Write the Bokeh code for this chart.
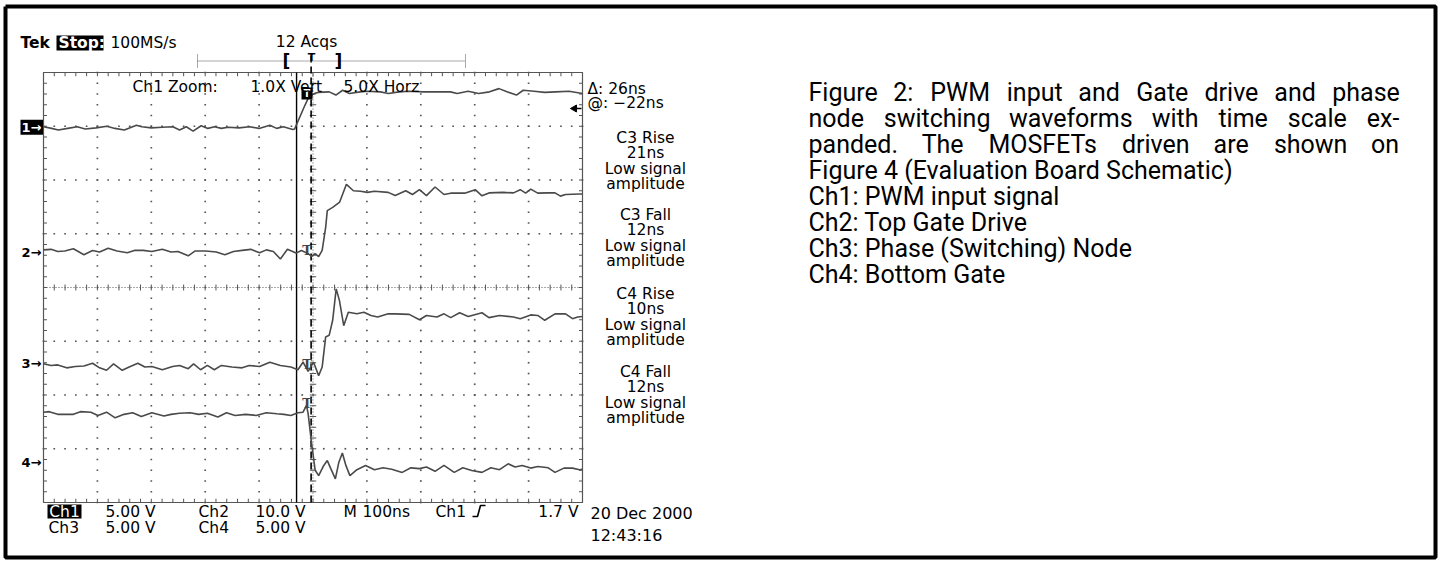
import numpy as np
from bokeh.plotting import figure
from bokeh.models import Range1d, Label
from bokeh.embed import file_html
from bokeh.resources import INLINE

# ---------------- data (time in ns at 20 ns/div, amplitude in screen divisions) ----------------
ch1_t = [-100, -97, -94.5, -91, -87.5, -84.5, -80.5, -76.5, -73.5, -70, -65.5, -63.5, -60, -56, -52,
         -49.5, -47, -44.5, -41.5, -39, -36.5, -34, -31.5, -27.5, -23.5, -20, -16, -13.5, -11, -7.5,
         -6.8, -3, -1.5, 1, 2, 6, 8.5, 11, 13.5, 17.5, 20, 25, 28, 32, 35.5, 41, 47, 51, 53.5, 57.5,
         61.5, 65.5, 69, 72, 75.5, 78, 82, 86, 90, 95, 100]
ch1_v = [2.99, 2.96, 2.93, 2.96, 2.99, 2.95, 2.97, 3.00, 2.96, 2.93, 3.02, 2.99, 2.97, 2.98, 2.99,
         2.93, 2.99, 2.91, 3.01, 2.96, 2.99, 2.96, 2.98, 2.97, 2.99, 2.96, 3.02, 2.96, 2.99, 2.94,
         2.95, 3.39, 3.55, 3.62, 3.63, 3.64, 3.58, 3.67, 3.61, 3.64, 3.65, 3.64, 3.61, 3.64, 3.65,
         3.64, 3.64, 3.64, 3.61, 3.65, 3.61, 3.64, 3.70, 3.64, 3.58, 3.67, 3.65, 3.63, 3.64, 3.65, 3.61]

ch2_t = [-100, -97.2, -94.7, -92.1, -88.9, -85.0, -81.8, -79.2, -76.0, -72.7, -68.9, -66.3, -63.0,
         -59.8, -55.9, -52.7, -50.1, -46.3, -43.7, -39.8, -35.9, -32.7, -29.5, -26.3, -23.1, -19.8,
         -17.3, -14.7, -12.1, -9.5, -6.3, -4.3, -1.8, -0.5, 0.8, 2.1, 3.4, 4.7, 5.3, 7.3, 9.9, 12.4,
         15.0, 17.6, 20.2, 22.8, 27.9, 30.5, 34.4, 36.9, 39.5, 42.1, 45.3, 48.6, 51.1, 56.3, 60.2,
         62.7, 65.3, 70.5, 74.4, 76.9, 78.9, 80.8, 83.4, 87.3, 89.8, 91.8, 93.7, 98.9, 100]
ch2_v = [0.70, 0.71, 0.67, 0.68, 0.72, 0.61, 0.69, 0.66, 0.73, 0.68, 0.645, 0.69, 0.69,
         0.67, 0.71, 0.66, 0.67, 0.59, 0.68, 0.68, 0.66, 0.61, 0.67, 0.69, 0.71, 0.645,
         0.70, 0.67, 0.53, 0.71, 0.64, 0.69, 0.63, 0.58, 0.63, 0.575, 0.69, 1.12, 1.43, 1.49, 1.59, 1.92,
         1.80, 1.79, 1.77, 1.79, 1.77, 1.71, 1.80, 1.73, 1.82, 1.71, 1.87, 1.73, 1.755, 1.755, 1.82,
         1.705, 1.76, 1.77, 1.76, 1.82, 1.755, 1.83, 1.755, 1.76, 1.76, 1.70, 1.73, 1.74, 1.74]

ch3_t = [-100, -97.2, -94.7, -91.4, -88.2, -85.0, -81.8, -79.2, -76.6, -74.0, -70.8, -68.2, -65.0,
         -62.4, -59.8, -55.9, -52.1, -49.5, -46.3, -44.3, -41.7, -39.2, -36.6, -34.0, -30.1, -26.3,
         -23.7, -19.8, -16.0, -12.1, -8.2, -5.6, -3.7, -1.8, 0.2, 2.1, 3.4, 4.7, 6.0, 7.3, 8.6, 9.8,
         11.4, 13.1, 16.3, 18.9, 21.5, 24.0, 27.9, 30.5, 35.7, 39.5, 42.1, 46.0, 48.6, 51.1, 54.4,
         57.6, 62.7, 65.3, 69.2, 74.4, 76.9, 80.8, 83.4, 86.0, 89.8, 93.7, 96.3, 98.2, 100]
ch3_v = [-1.42, -1.45, -1.44, -1.495, -1.47, -1.46, -1.41, -1.495, -1.54, -1.42, -1.54, -1.48, -1.41,
         -1.48, -1.47, -1.53, -1.47, -1.45, -1.51, -1.42, -1.53, -1.45, -1.53, -1.45, -1.48, -1.495,
         -1.45, -1.47, -1.39, -1.45, -1.48, -1.53, -1.39, -1.56, -1.39, -1.64, -1.48, -0.92, -0.89,
         -0.61, -0.025, -0.24, -0.71, -0.46, -0.49, -0.46, -0.52, -0.55, -0.49, -0.49, -0.50, -0.60,
         -0.52, -0.55, -0.49, -0.56, -0.47, -0.54, -0.47, -0.56, -0.52, -0.55, -0.58, -0.51, -0.52,
         -0.61, -0.49, -0.49, -0.58, -0.55, -0.54]

ch4_t = [-100, -97.9, -94.7, -88.9, -86.3, -82.4, -79.8, -76.6, -73.4, -70.1, -66.9, -63.7, -59.8,
         -55.3, -52.7, -49.5, -45.6, -42.4, -39.2, -35.3, -32.1, -28.9, -25.0, -21.1, -17.3, -13.4,
         -10.8, -8.2, -5.6, -3.7, -2.4, -1.8, -0.5, 0.8, 2.1, 4.0, 5.3, 6.6, 8.3, 9.6, 10.9, 12.2,
         13.7, 16.3, 19.5, 22.8, 26.0, 29.2, 33.1, 36.3, 39.5, 42.1, 45.3, 48.6, 52.4, 55.6, 58.9,
         62.7, 66.0, 69.2, 72.4, 75.0, 77.6, 80.8, 83.4, 87.3, 89.8, 93.1, 96.3, 98.9, 100]
ch4_v = [-2.32, -2.31, -2.36, -2.36, -2.31, -2.32, -2.38, -2.32, -2.425, -2.36, -2.33, -2.40, -2.33,
         -2.39, -2.36, -2.34, -2.33, -2.36, -2.34, -2.41, -2.33, -2.38, -2.36, -2.38, -2.33, -2.35,
         -2.36, -2.38, -2.33, -2.32, -2.195, -2.35, -2.91, -3.40, -3.50, -3.31, -3.22, -3.37, -3.56,
         -3.25, -3.08, -3.31, -3.50, -3.39, -3.31, -3.39, -3.355, -3.38, -3.44, -3.355, -3.37, -3.34,
         -3.42, -3.31, -3.44, -3.355, -3.405, -3.44, -3.355, -3.39, -3.28, -3.34, -3.31, -3.36, -3.33,
         -3.355, -3.44, -3.36, -3.36, -3.39, -3.38]

ch_names = ["1", "2", "3", "4"]
ch_ground = [2.98, 0.65, -1.42, -3.25]
cursor_t = [-6.1, -0.7]
trig_marks_v = [0.68, -1.43, -2.15]

meas_names = ["C3 Rise", "C3 Fall", "C4 Rise", "C4 Fall"]
meas_vals = ["21ns", "12ns", "10ns", "12ns"]

caption_lines = [
    "Figure 2: PWM input and Gate drive and phase",
    "node switching waveforms with time scale ex-",
    "panded.  The MOSFETs driven are shown on",
    "Figure 4  (Evaluation Board Schematic)",
    "Ch1: PWM input signal",
    "Ch2: Top Gate Drive",
    "Ch3: Phase (Switching) Node",
    "Ch4: Bottom Gate",
]

# ---------------- geometry ----------------
W, H, OFF = 1440, 561, 0
GX0, GX1, GY0, GY1 = 43, 582, 72, 502
T0, T1, V0, V1 = -100.0, 100.0, -4.0, 4.0


def X(px):
    return T0 + (px - GX0) * (T1 - T0) / (GX1 - GX0)


def Y(py):
    return V1 - (py - GY0) * (V1 - V0) / (GY1 - GY0)


p = figure(width=W, height=H, x_range=Range1d(X(OFF), X(OFF + W)),
           y_range=Range1d(Y(OFF + H), Y(OFF)), output_backend="svg",
           toolbar_location=None, min_border=0, x_axis_type=None, y_axis_type=None)
p.title.visible = False
p.outline_line_color = None
p.background_fill_color = "white"
p.border_fill_color = "white"

TEK = "DejaVu Sans"
FS = "15.5px"
GRAY = "#4a4a4a"


def lab(px, py, text, size=FS, align="left", color="black", style="normal", font=TEK):
    p.add_layout(Label(x=X(px), y=Y(py), text=text, text_font=font, text_font_size=size,
                       text_align=align, text_baseline="middle", text_color=color,
                       text_font_style=style))


# outer border
bx = [X(5), X(1435), X(1435), X(5), X(5)]
by = [Y(6), Y(6), Y(557), Y(557), Y(6)]
p.line(bx, by, color="black", line_width=4)

# graticule
vs = np.round(np.arange(V0, V1 + 0.001, 0.2), 3)
ts = np.round(np.arange(T0, T1 + 0.001, 4.0), 3)
dx, dy = [], []
for gt in range(-80, 81, 20):
    if gt != 0:
        dx += [gt] * len(vs)
        dy += list(vs)
for gv in range(-3, 4):
    if gv != 0:
        dx += list(ts)
        dy += [gv] * len(ts)
p.scatter(dx, dy, marker="square", size=1.7, fill_color="#555555", line_color=None)

p.line([T0, T1], [0, 0], color="#555555", line_width=1, line_dash="1 2")
p.line([0, 0], [V0, V1], color="#555555", line_width=1, line_dash="1 2")
p.segment(x0=list(ts), y0=[-0.055] * len(ts), x1=list(ts), y1=[0.055] * len(ts), color="#555555", line_width=1)
p.segment(x0=[-1.2] * len(vs), y0=list(vs), x1=[1.2] * len(vs), y1=list(vs), color="#555555", line_width=1)
# frame ticks
p.segment(x0=[T0] * len(vs), y0=list(vs), x1=[T0 + 1.3] * len(vs), y1=list(vs), color="#555555")
p.segment(x0=[T1] * len(vs), y0=list(vs), x1=[T1 - 1.3] * len(vs), y1=list(vs), color="#555555")
p.segment(x0=list(ts), y0=[V1] * len(ts), x1=list(ts), y1=[V1 - 0.07] * len(ts), color="#555555")
p.segment(x0=list(ts), y0=[V0] * len(ts), x1=list(ts), y1=[V0 + 0.07] * len(ts), color="#555555")
p.line([T0, T1, T1, T0, T0], [V0, V0, V1, V1, V0], color="#555555", line_width=1.2)

# cursors
p.line([cursor_t[0], cursor_t[0]], [V0, V1], color="black", line_width=1.4)
p.line([cursor_t[1], cursor_t[1]], [V0, Y(54)], color="black", line_width=1.6, line_dash="7 4")

# traces
for tt, vv in [(ch1_t, ch1_v), (ch2_t, ch2_v), (ch3_t, ch3_v), (ch4_t, ch4_v)]:
    p.line(tt, vv, color=GRAY, line_width=1.6)

# channel ground markers
p.quad(left=[X(20)], right=[X(42.5)], top=[ch_ground[0] + 0.14], bottom=[ch_ground[0] - 0.14],
       fill_color="black", line_color=None)
for i, (nm, g) in enumerate(zip(ch_names, ch_ground)):
    p.add_layout(Label(x=X(21), y=g, text=nm + "\u2192", text_font=TEK, text_font_size="13px",
                       text_font_style="bold", text_baseline="middle",
                       text_color="white" if i == 0 else "black"))

# trigger markers
p.quad(left=[X(301)], right=[X(312)], top=[Y(87)], bottom=[Y(99)], fill_color="black", line_color=None)
lab(306.5, 93, "T", size="10px", align="center", color="white", style="bold")
for v in trig_marks_v:
    p.add_layout(Label(x=X(306.5), y=v, text="T", text_font="DejaVu Serif", text_font_size="13px",
                       text_font_style="bold", text_align="center", text_baseline="middle"))
p.scatter([X(574)], [Y(108)], marker="triangle", angle=np.pi / 2, size=7, color="black")
p.line([X(574), X(581)], [Y(108), Y(108)], color="black", line_width=1.5)

# header
lab(20, 42, "Tek", style="bold")
p.quad(left=[X(56)], right=[X(103)], top=[Y(35)], bottom=[Y(50)], fill_color="black", line_color=None)
lab(58, 42, "Stop:", color="white", style="bold")
lab(110, 42, "100MS/s")
lab(306, 41, "12 Acqs", align="center")
p.line([X(197), X(465)], [Y(60.5), Y(60.5)], color="#555555", line_width=1, line_dash="1 1")
for xe in (197, 465):
    p.line([X(xe), X(xe)], [Y(54), Y(67)], color="#555555", line_width=1, line_dash="1 1")
lab(286, 60, "[", size="17px", align="center", style="bold")
lab(338, 60, "]", size="17px", align="center", style="bold")
lab(311, 57, "T", size="11px", align="center", style="bold")

lab(132, 86, "Ch1 Zoom:")
lab(250, 86, "1.0X Vert")
lab(343, 86, "5.0X Horz")

# right-side readouts
lab(587, 88, "\u0394: 26ns")
lab(587, 102, "@: \u221222ns")
meas_y = [137, 214, 293, 371]
for nm, vtxt, y0 in zip(meas_names, meas_vals, meas_y):
    lab(645, y0, nm, align="center")
    lab(645, y0 + 15.5, vtxt, align="center")
    lab(645, y0 + 31, "Low signal", align="center")
    lab(645, y0 + 46.5, "amplitude", align="center")

# bottom readouts
p.quad(left=[X(47)], right=[X(81)], top=[Y(504)], bottom=[Y(518)], fill_color="black", line_color=None)
lab(64, 511, "Ch1", align="center", color="white")
lab(105, 511, "5.00 V")
lab(198, 511, "Ch2")
lab(255, 511, "10.0 V")
lab(343, 511, "M")
lab(362, 511, "100ns")
lab(435, 511, "Ch1")
p.line([X(472), X(477), X(480), X(485)], [Y(516), Y(516), Y(505), Y(505)], color="black", line_width=1.6)
lab(578, 511, "1.7 V", align="right")
lab(48, 527, "Ch3")
lab(105, 527, "5.00 V")
lab(198, 527, "Ch4")
lab(255, 527, "5.00 V")
lab(590, 513, "20 Dec 2000", size="16px")
lab(590, 535, "12:43:16", size="16px")

# caption (first three lines justified to the column width)
RW = {'a': .544, 'b': .548, 'c': .511, 'd': .551, 'e': .517, 'f': .346, 'g': .549, 'h': .538,
      'i': .237, 'l': .237, 'm': .856, 'n': .539, 'o': .557, 'p': .548, 'r': .331, 's': .503,
      't': .319, 'u': .537, 'v': .473, 'w': .733, 'x': .484, '.': .257, ':': .236, '-': .270,
      '2': .562, '4': .562, '1': .562, 'F': .535, 'G': .665, 'M': .852, 'O': .672, 'P': .630,
      'S': .594, 'E': .568, 'T': .597, 'W': .895, '(': .342, ')': .348}
CFS = 25
CAP_L, CAP_R = 808, 1398


def tw(s):
    return sum(RW.get(c, 0.55) for c in s) * CFS


for k, line in enumerate(caption_lines):
    yk = 92 + 26 * k
    if k < 3:
        words = line.split()
        gap = (CAP_R - CAP_L - sum(tw(w) for w in words)) / (len(words) - 1)
        xk = CAP_L
        for w in words:
            lab(xk, yk, w, size=f"{CFS}px", font="Roboto", color="#000000")
            xk += tw(w) + gap
    else:
        lab(CAP_L, yk, line, size=f"{CFS}px", font="Roboto", color="#000000")

open("out.html", "w").write(file_html(p, INLINE))
